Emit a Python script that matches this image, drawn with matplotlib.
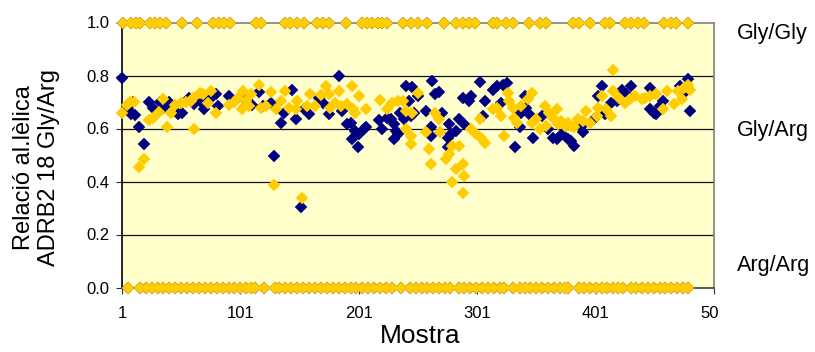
import matplotlib
matplotlib.use('Agg')
import matplotlib.pyplot as plt
from matplotlib.transforms import Bbox, TransformedBbox

plt.rcParams['font.family'] = ['Liberation Sans', 'DejaVu Sans']

# homozygous samples (ratio 1.0 = Gly/Gly, 0.0 = Arg/Arg)
gly_gly_x = [2, 9, 13, 16, 25, 29, 33, 38, 52, 64, 78, 83, 87, 92, 114, 118, 139, 143, 149, 155,
             166, 171, 176, 190, 204, 208, 212, 217, 221, 225, 238, 245, 251, 259, 273, 283, 289,
             294, 299, 314, 318, 325, 331, 345, 354, 359, 382, 387, 396, 409, 413, 426, 431, 437,
             442, 459, 465, 469, 479]
arg_arg_x = [6, 16, 21, 26, 31, 36, 41, 46, 51, 56, 61, 66, 71, 76, 81, 86, 91, 96, 101, 106, 110,
             113, 121, 130, 134, 139, 144, 149, 154, 159, 164, 169, 174, 179, 184, 189, 194, 199,
             204, 209, 214, 219, 224, 229, 237, 244, 249, 254, 259, 264, 269, 274, 278, 286, 290,
             295, 300, 305, 310, 315, 320, 324, 331, 337, 341, 346, 351, 356, 361, 366, 371, 375,
             378, 387, 391, 396, 401, 406, 411, 416, 420, 424, 431, 435, 440, 445, 450, 455, 460,
             465, 470, 475, 479]

# heterozygous samples, replicate 1 (blue)
blue_x = [1, 6, 9, 12, 10, 15, 20, 24, 27, 33, 36, 41, 48, 52, 58, 62, 68, 70, 75, 80, 82, 91,
          103, 111, 117, 120, 127, 129, 135, 138, 145, 148, 152, 155, 159, 167, 171, 176, 184,
          187, 191, 194, 195, 198, 200, 201, 205, 207, 218, 221, 225, 228, 231, 231, 232, 234,
          236, 239, 241, 243, 245, 246, 248, 251, 258, 262, 262, 263, 265, 269, 271, 276, 276,
          277, 279, 283, 286, 289, 290, 294, 296, 303, 306, 308, 314, 318, 321, 323, 326, 333,
          337, 338, 341, 342, 345, 348, 356, 361, 365, 368, 373, 378, 380, 383, 389, 390, 400,
          403, 406, 409, 414, 419, 423, 427, 431, 447, 447, 450, 452, 455, 458, 472, 476, 479,
          481]
blue_y = [0.79, 0.673, 0.654, 0.65, 0.70, 0.604, 0.541, 0.70, 0.679, 0.70, 0.679, 0.70, 0.654,
          0.657, 0.716, 0.691, 0.70, 0.672, 0.71, 0.731, 0.685, 0.722, 0.716, 0.69, 0.739, 0.685,
          0.697, 0.497, 0.62, 0.66, 0.747, 0.635, 0.305, 0.672, 0.654, 0.716, 0.697, 0.654, 0.80,
          0.666, 0.616, 0.622, 0.562, 0.59, 0.529, 0.578, 0.597, 0.604, 0.632, 0.60, 0.64, 0.635,
          0.616, 0.56, 0.59, 0.578, 0.66, 0.635, 0.762, 0.704, 0.647, 0.757, 0.66, 0.722, 0.666,
          0.604, 0.572, 0.779, 0.729, 0.737, 0.66, 0.565, 0.532, 0.616, 0.578, 0.59, 0.635, 0.716,
          0.616, 0.704, 0.722, 0.775, 0.647, 0.704, 0.747, 0.76, 0.697, 0.766, 0.772, 0.532,
          0.604, 0.66, 0.722, 0.679, 0.654, 0.566, 0.647, 0.597, 0.566, 0.56, 0.578, 0.56, 0.554,
          0.535, 0.604, 0.585, 0.635, 0.722, 0.762, 0.654, 0.697, 0.704, 0.747, 0.729, 0.762,
          0.754, 0.672, 0.66, 0.654, 0.685, 0.704, 0.76, 0.735, 0.787, 0.666]

# heterozygous samples, replicate 2 (gold)
gold_x = [1, 5, 8, 11, 15, 20, 24, 27, 32, 36, 39, 42, 46, 51, 55, 59, 61, 62, 67, 69, 74, 76,
          80, 91, 96, 99, 102, 103, 106, 108, 110, 117, 118, 123, 127, 129, 131, 135, 139, 142,
          148, 149, 153, 157, 160, 164, 169, 173, 176, 177, 181, 184, 186, 191, 195, 196, 198,
          201, 207, 219, 225, 229, 234, 238, 241, 241, 245, 245, 246, 251, 258, 260, 262, 265,
          269, 270, 275, 277, 280, 280, 283, 286, 289, 289, 290, 296, 300, 303, 304, 308, 314,
          318, 321, 324, 327, 328, 331, 332, 335, 338, 344, 347, 347, 351, 354, 358, 359, 362,
          365, 368, 369, 372, 375, 378, 380, 383, 386, 390, 393, 396, 402, 403, 406, 410, 414,
          416, 416, 421, 426, 430, 434, 440, 443, 447, 452, 458, 461, 467, 471, 474, 476, 479,
          481]
gold_y = [0.657, 0.69, 0.70, 0.70, 0.454, 0.485, 0.633, 0.641, 0.662, 0.71, 0.604, 0.66, 0.69,
          0.695, 0.70, 0.704, 0.716, 0.598, 0.735, 0.731, 0.697, 0.74, 0.66, 0.69, 0.70, 0.716,
          0.675, 0.741, 0.704, 0.685, 0.729, 0.766, 0.679, 0.685, 0.739, 0.385, 0.672, 0.704,
          0.741, 0.679, 0.672, 0.704, 0.337, 0.685, 0.729, 0.685, 0.725, 0.76, 0.729, 0.679,
          0.697, 0.741, 0.685, 0.691, 0.762, 0.672, 0.66, 0.722, 0.675, 0.707, 0.675, 0.697,
          0.704, 0.704, 0.666, 0.597, 0.572, 0.541, 0.66, 0.735, 0.585, 0.522, 0.466, 0.66,
          0.635, 0.585, 0.485, 0.504, 0.535, 0.40, 0.447, 0.535, 0.466, 0.357, 0.422, 0.597,
          0.578, 0.635, 0.566, 0.547, 0.672, 0.679, 0.647, 0.57, 0.735, 0.704, 0.679, 0.641,
          0.622, 0.685, 0.71, 0.735, 0.622, 0.635, 0.597, 0.685, 0.61, 0.66, 0.641, 0.672, 0.616,
          0.628, 0.61, 0.622, 0.61, 0.604, 0.635, 0.628, 0.666, 0.622, 0.647, 0.679, 0.722,
          0.672, 0.647, 0.741, 0.822, 0.716, 0.697, 0.71, 0.722, 0.71, 0.716, 0.722, 0.729,
          0.672, 0.741, 0.691, 0.741, 0.71, 0.754, 0.766, 0.747]

x_ticks = [1, 101, 201, 301, 401, 501]
y_ticks = [0.0, 0.2, 0.4, 0.6, 0.8, 1.0]
genotypes = ['Gly/Gly', 'Gly/Arg', 'Arg/Arg']

BLUE = '#000080'
GOLD = '#FFCC00'

fig = plt.figure(figsize=(8.15, 3.52), dpi=100)
ax = fig.add_axes([122/815, 1-287.5/352, (714-122)/815, 265/352])
ax.set_facecolor('#FFFFCC')

hx_b = blue_x + gly_gly_x + arg_arg_x
hy_b = blue_y + [1.0]*len(gly_gly_x) + [0.0]*len(arg_arg_x)
hx_g = gold_x + gly_gly_x + arg_arg_x
hy_g = gold_y + [1.0]*len(gly_gly_x) + [0.0]*len(arg_arg_x)
ms = 5.8
ax.plot(hx_b, hy_b, ls='none', marker='D', ms=ms, mfc=BLUE, mec=BLUE, mew=0.3, clip_on=False, zorder=3)
ax.plot(hx_g, hy_g, ls='none', marker='D', ms=ms, mfc=GOLD, mec=GOLD, mew=0.3, clip_on=False, zorder=4)

ax.set_xlim(1, 501)
ax.set_ylim(0, 1)
ax.set_xticks(x_ticks)
ax.set_xticklabels([str(v) for v in x_ticks[:-1]] + [''])
ax.set_yticks(y_ticks)
ax.set_yticklabels(['%.1f' % v for v in y_ticks])
ax.tick_params(axis='both', direction='out', length=4, width=0.8, labelsize=12, color='#303030')
ax.tick_params(axis='x', pad=9)
ax.tick_params(axis='y', pad=5)

for v in y_ticks[1:-1]:
    ax.axhline(v, color='#101010', lw=0.9, zorder=1)
ax.spines['left'].set_color('black')
ax.spines['bottom'].set_color('#404040')
ax.spines['top'].set_color('#808080')
ax.spines['right'].set_color('#808080')
for s in ax.spines.values():
    s.set_linewidth(1.2)
    s.set_zorder(2)

# last tick label is cut at the right edge in the original
t = fig.text(714/815, 1-313/352, '501', fontsize=12, ha='center', va='center')
t.set_clip_box(TransformedBbox(Bbox([[0, 0], [719/815, 1]]), fig.transFigure))
t.set_clip_on(True)

fig.text(0.045, 1-168/352, 'Relació al.lèlica\nADRB2 18 Gly/Arg', rotation=90,
         ha='center', va='center', fontsize=17, linespacing=1.2)
fig.text(0.516, 1-336/352, 'Mostra', ha='center', va='center', fontsize=19)

for lab, py in zip(genotypes, [33, 130, 265]):
    fig.text(737/815, 1-py/352, lab, ha='left', va='center', fontsize=15.5)

fig.savefig('out.png', dpi=100)
